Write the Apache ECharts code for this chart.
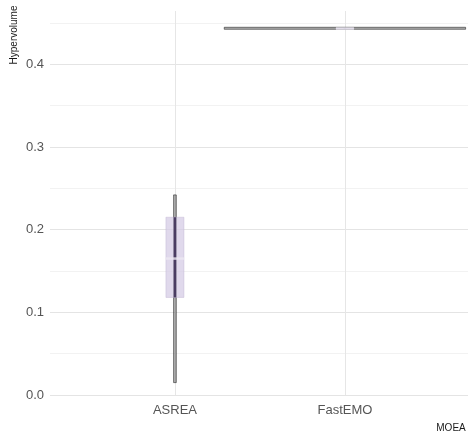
<!DOCTYPE html>
<html><head><meta charset="utf-8">
<script src="https://cdn.jsdelivr.net/npm/echarts@6/dist/echarts.min.js"></script>
<style>html,body{margin:0;padding:0;background:#fff}#c{width:468px;height:438px}</style>
</head><body><div id="c"></div>
<script>
var categories = ['ASREA', 'FastEMO'];
var violinMin = [0.015, 0.4425];
var violinMax = [0.242, 0.4445];
var violinHalfWidth = [0.008, 0.71];
var boxQ1 = [0.118, 0.4430];
var boxMedian = [0.165, 0.4432];
var boxQ3 = [0.215, 0.4434];
var yTicks = [0, 0.1, 0.2, 0.3, 0.4];

var data = categories.map(function (c, i) {
  return [i + 1, violinMin[i], violinMax[i], boxQ1[i], boxMedian[i], boxQ3[i], violinHalfWidth[i]];
});

var chart = echarts.init(document.getElementById('c'), null, {renderer: 'canvas'});
var BOX_HALF = 0.053;
chart.setOption({
  animation: false,
  grid: {left: 50, right: 0, top: 11, bottom: 43},
  xAxis: {
    type: 'value', min: 0.265, max: 2.724,
    axisLine: {show: false},
    axisTick: {show: false, customValues: [1, 2]},
    axisLabel: {customValues: [1, 2], formatter: function (v) { return categories[Math.round(v) - 1] || ''; },
      color: '#555555', fontSize: 13, fontFamily: 'Liberation Sans', margin: 9},
    splitLine: {show: true, lineStyle: {color: '#e6e6e6', width: 1}}
  },
  yAxis: {
    type: 'value', min: 0, max: 0.4644, interval: 0.05,
    axisLine: {show: false}, axisTick: {show: false},
    axisLabel: {customValues: yTicks, formatter: function (v) { return v.toFixed(1); },
      color: '#555555', fontSize: 13, fontFamily: 'Liberation Sans', margin: 6},
    splitLine: {show: true, showMaxLine: false, lineStyle: {color: ['#e4e4e4', '#f2f2f2'], width: 1}}
  },
  graphic: [
    {type: 'text', x: 14, y: 35, rotation: Math.PI / 2,
      style: {text: 'Hypervolume', fill: '#1a1a1a', fontSize: 10, fontFamily: 'Liberation Sans', align: 'center', verticalAlign: 'middle'}},
    {type: 'text', x: 451, y: 428,
      style: {text: 'MOEA', fill: '#1a1a1a', fontSize: 10, fontFamily: 'Liberation Sans', align: 'center', verticalAlign: 'middle'}}
  ],
  series: [{
    type: 'custom',
    data: data,
    clip: false,
    renderItem: function (params, api) {
      var x = api.value(0), vmin = api.value(1), vmax = api.value(2);
      var q1 = api.value(3), med = api.value(4), q3 = api.value(5), hw = api.value(6);
      var vTL = api.coord([x - hw, vmax]), vBR = api.coord([x + hw, vmin]);
      var bTL = api.coord([x - BOX_HALF, q3]), bBR = api.coord([x + BOX_HALF, q1]);
      var mL = api.coord([x - BOX_HALF, med]), mR = api.coord([x + BOX_HALF, med]);
      var c1 = api.coord([x, q1]), c3 = api.coord([x, q3]);
      var vh = Math.max(vBR[1] - vTL[1], 2);
      var vw = Math.max(vBR[0] - vTL[0], 2.5);
      var cy = (vTL[1] + vBR[1]) / 2, cx = (vTL[0] + vBR[0]) / 2;
      return {type: 'group', children: [
        {type: 'rect', shape: {x: cx - vw / 2, y: cy - vh / 2, width: vw, height: vh},
          style: {fill: 'rgba(110,110,110,0.55)', stroke: 'rgba(30,30,30,0.7)', lineWidth: 0.8}},
        {type: 'rect', shape: {x: bTL[0], y: bTL[1], width: bBR[0] - bTL[0], height: Math.max(bBR[1] - bTL[1], 0.5)},
          style: {fill: 'rgba(214,204,230,0.75)', stroke: 'rgba(190,178,210,0.7)', lineWidth: 0.6}},
        {type: 'line', shape: {x1: c1[0], y1: c1[1], x2: c3[0], y2: c3[1]},
          style: {stroke: '#4a3c62', lineWidth: 2.6}},
        {type: 'line', shape: {x1: mL[0], y1: mL[1], x2: mR[0], y2: mR[1]},
          style: {stroke: 'rgba(236,232,242,0.8)', lineWidth: 2.5}}
      ]};
    }
  }]
});
</script></body></html>
